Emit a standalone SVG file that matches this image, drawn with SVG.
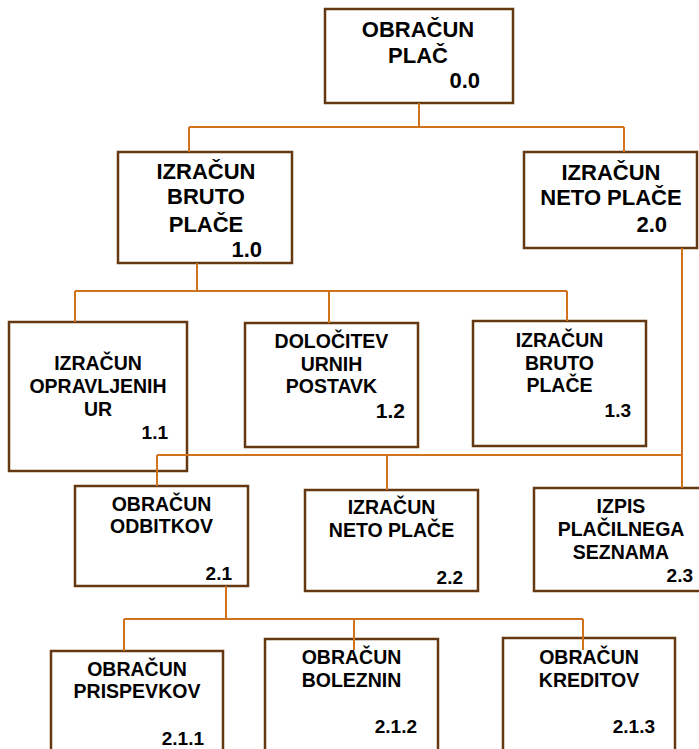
<svg xmlns="http://www.w3.org/2000/svg" width="699" height="749" viewBox="0 0 699 749">
  <style>
    .box { fill: #ffffff; stroke: #653812; stroke-width: 2.5; }
    .conn { fill: none; stroke: #d1731c; stroke-width: 2; }
    text { font-family: "Liberation Sans", Arial, sans-serif; font-weight: bold; fill: #000000; }
    .lg { font-size: 22px; text-anchor: middle; }
    .sm { font-size: 19.5px; text-anchor: middle; }
    .nlg { font-size: 22px; text-anchor: end; }
    .nsm { font-size: 19px; text-anchor: end; }
  </style>

  <rect width="699" height="749" fill="#ffffff"/>

  <!-- level 0 -->
  <g id="n0_0">
    <rect class="box" x="325" y="9" width="188" height="94"/>
    <text class="lg" x="418" y="37">OBRAČUN</text>
    <text class="lg" x="418" y="63">PLAČ</text>
    <text class="nlg" x="480" y="88">0.0</text>
  </g>

  <!-- level 1 -->
  <g id="n1_0">
    <rect class="box" x="118" y="152" width="174" height="111"/>
    <text class="lg" x="206" y="179">IZRAČUN</text>
    <text class="lg" x="206" y="204">BRUTO</text>
    <text class="lg" x="206" y="232">PLAČE</text>
    <text class="nlg" x="262" y="257">1.0</text>
  </g>
  <g id="n2_0">
    <rect class="box" x="524" y="152" width="173" height="96"/>
    <text class="lg" x="611" y="180">IZRAČUN</text>
    <text class="lg" x="611" y="205">NETO PLAČE</text>
    <text class="nlg" x="667" y="232">2.0</text>
  </g>

  <!-- level 2 -->
  <g id="n1_1">
    <rect class="box" x="9" y="322" width="178" height="149"/>
    <text class="sm" x="98" y="370">IZRAČUN</text>
    <text class="sm" x="98" y="393">OPRAVLJENIH</text>
    <text class="sm" x="98" y="416">UR</text>
    <text class="nsm" x="168" y="439">1.1</text>
  </g>
  <g id="n1_2">
    <rect class="box" x="245" y="323" width="173" height="124"/>
    <text class="sm" x="331.5" y="348">DOLOČITEV</text>
    <text class="sm" x="331.5" y="371">URNIH</text>
    <text class="sm" x="331.5" y="393">POSTAVK</text>
    <text class="nsm" x="405" y="418" style="font-size:21px">1.2</text>
  </g>
  <g id="n1_3">
    <rect class="box" x="473" y="321" width="173" height="125"/>
    <text class="sm" x="559.5" y="347">IZRAČUN</text>
    <text class="sm" x="559.5" y="370">BRUTO</text>
    <text class="sm" x="559.5" y="392">PLAČE</text>
    <text class="nsm" x="631" y="417">1.3</text>
  </g>

  <!-- level 3 -->
  <g id="n2_1">
    <rect class="box" x="75" y="486" width="173" height="100"/>
    <text class="sm" x="161.5" y="511">OBRAČUN</text>
    <text class="sm" x="161.5" y="533">ODBITKOV</text>
    <text class="nsm" x="232" y="580">2.1</text>
  </g>
  <g id="n2_2">
    <rect class="box" x="305" y="490" width="173" height="101"/>
    <text class="sm" x="391.5" y="514">IZRAČUN</text>
    <text class="sm" x="391.5" y="537">NETO PLAČE</text>
    <text class="nsm" x="463" y="584">2.2</text>
  </g>
  <g id="n2_3">
    <rect class="box" x="534" y="488" width="174" height="103"/>
    <text class="sm" x="621" y="513">IZPIS</text>
    <text class="sm" x="621" y="536">PLAČILNEGA</text>
    <text class="sm" x="621" y="559">SEZNAMA</text>
    <text class="nsm" x="693" y="582">2.3</text>
  </g>

  <!-- level 4 -->
  <g id="n2_1_1">
    <rect class="box" x="51" y="651" width="172" height="110"/>
    <text class="sm" x="137" y="676">OBRAČUN</text>
    <text class="sm" x="137" y="698">PRISPEVKOV</text>
    <text class="nsm" x="204" y="745">2.1.1</text>
  </g>
  <g id="n2_1_2">
    <rect class="box" x="265" y="639" width="173" height="120"/>
    <text class="sm" x="351.5" y="664">OBRAČUN</text>
    <text class="sm" x="351.5" y="687">BOLEZNIN</text>
    <text class="nsm" x="417" y="733">2.1.2</text>
  </g>
  <g id="n2_1_3">
    <rect class="box" x="503" y="638" width="172" height="120"/>
    <text class="sm" x="589" y="664">OBRAČUN</text>
    <text class="sm" x="589" y="687">KREDITOV</text>
    <text class="nsm" x="655" y="733">2.1.3</text>
  </g>

  <!-- tree connectors -->
  <g id="connectors">
    <path class="conn" d="M419 103 V127 M189 127 H624 M189 127 V152 M624 127 V152"/>
    <path class="conn" d="M197 263 V291 M75 291 H567 M75 291 V322 M329 291 V323 M567 291 V321"/>
    <path class="conn" d="M682 248 V488 M157 455 H682 M157 455 V486 M387 455 V490"/>
    <path class="conn" d="M226 586 V619 M124 619 H583 M124 619 V651 M354 619 V650 M583 619 V650"/>
  </g>
</svg>
